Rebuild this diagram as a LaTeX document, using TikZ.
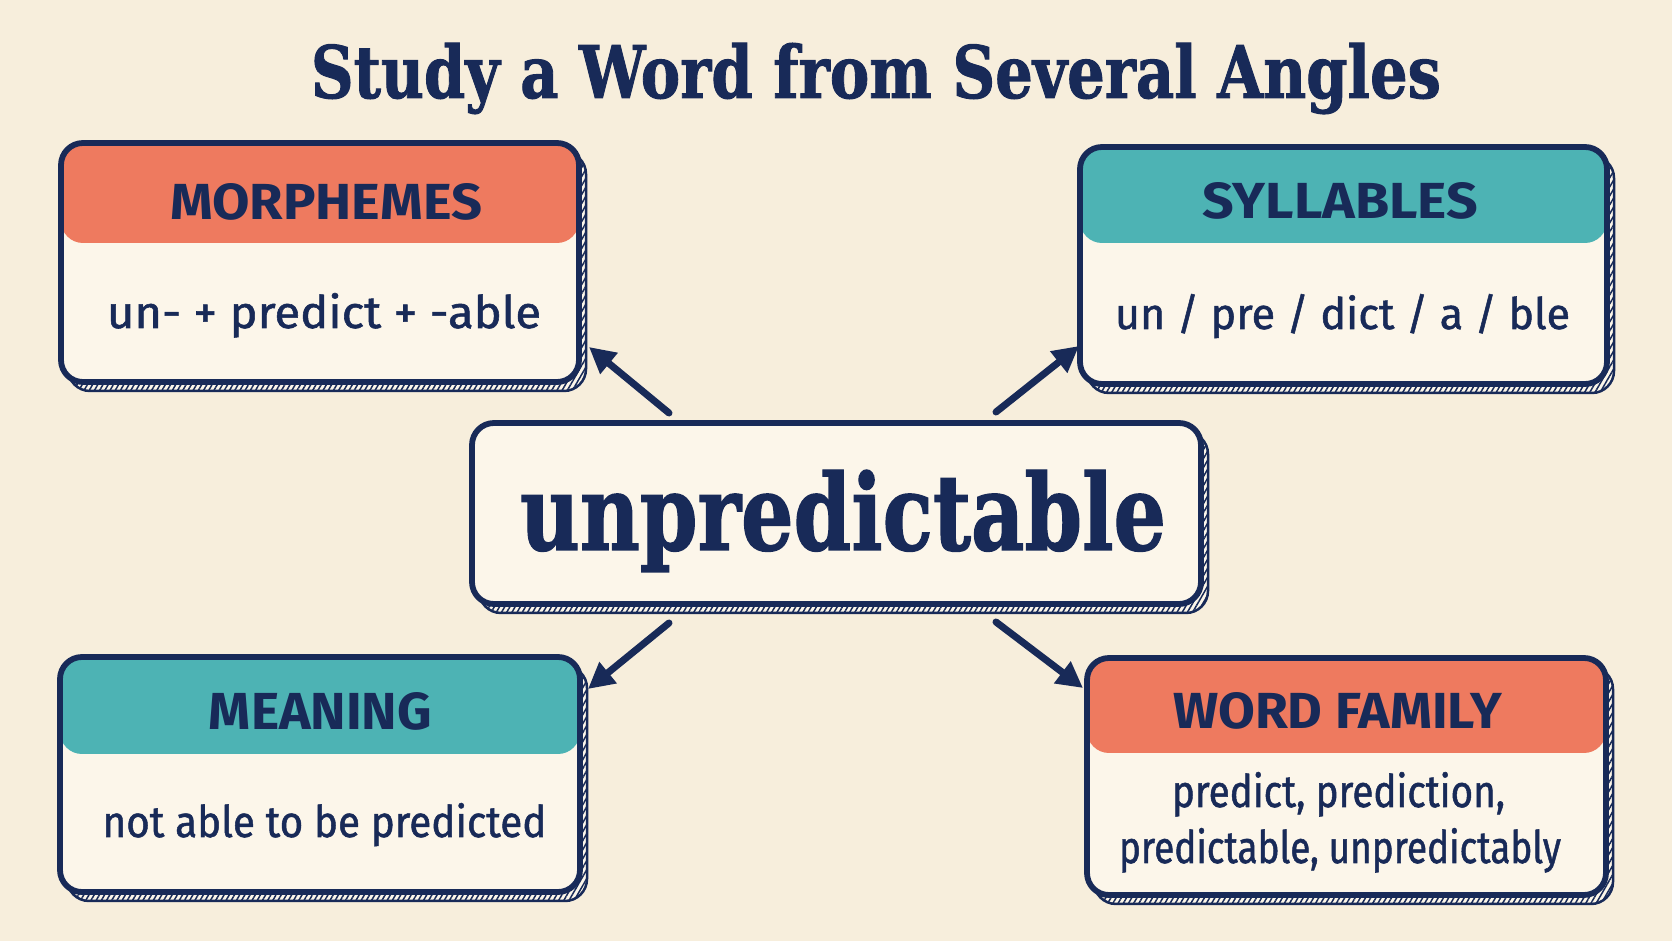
\documentclass[tikz,border=0pt]{standalone}
\usepackage{fontspec}
\usetikzlibrary{arrows.meta,patterns.meta}
\newfontfamily\titlefont{DejaVu Serif}[FakeBold=1.4]
\newfontfamily\labfont{Fira Sans}
\newfontfamily\bodyfont{Fira Sans}[FakeBold=1.2]
\definecolor{paper}{HTML}{F7EEDC}
\definecolor{cardfill}{HTML}{FCF6EA}
\definecolor{navy}{HTML}{182A58}
\definecolor{coral}{HTML}{EE7A5F}
\definecolor{tealc}{HTML}{4DB3B4}
\newcommand\fitt[3]{\resizebox{#1}{#2}{#3}}
\pgfdeclarelayer{paperlayer}
\pgfdeclarelayer{shadelayer}
\pgfsetlayers{paperlayer,shadelayer,main}
\begin{document}
\begin{tikzpicture}[x=0.1mm,y=-0.1mm,
  card/.style={draw=navy, line width=0.58mm, fill=cardfill, rounded corners=2.2mm, inner sep=0pt, outer sep=0pt},
  hdr/.style 2 args={path picture={\fill[#1] (path picture bounding box.north west) rectangle ([yshift=-#2]path picture bounding box.north east);}},
  cardshade/.style={draw=navy, line width=0.25mm, rounded corners=2.2mm, fill=cardfill,
    postaction={pattern={Lines[angle=60,distance=0.45mm,line width=0.15mm]}, pattern color=navy}},
  txt/.style={inner sep=0pt, anchor=base, text=navy},
  arr/.style={draw=navy, line width=0.7mm, line cap=round, -{Triangle[length=2.6mm,width=2.6mm]}}]

\begin{pgfonlayer}{paperlayer}
  \fill[paper] (0,0) rectangle (1672,941);
\end{pgfonlayer}
\useasboundingbox (0,0) rectangle (1672,941);

% title
\node[txt] (title) at (876,98) {\fitt{113mm}{5.5mm}{\titlefont\bfseries Study a Word from Several Angles}};

% cards
\node[card, minimum width=51.8mm, minimum height=23.9mm, hdr={coral}{10mm}] (morph) at (320,262.5) {};
\node[card, minimum width=52.7mm, minimum height=23.7mm, hdr={tealc}{9.6mm}] (syll) at (1343.5,265.5) {};
\node[card, minimum width=52mm, minimum height=23.5mm, hdr={tealc}{9.7mm}] (mean) at (320,774.5) {};
\node[card, minimum width=51.9mm, minimum height=23.7mm, hdr={coral}{9.5mm}] (fam) at (1346.5,776.5) {};
\node[card, minimum width=72.9mm, minimum height=18.1mm] (word) at (836.5,513.5) {};

\begin{pgfonlayer}{shadelayer}
  \foreach \n in {morph,syll,mean,fam,word}{
    \path[cardshade] ([shift={(7,9)}]\n.north west) rectangle ([shift={(7,9)}]\n.south east);
  }
\end{pgfonlayer}

% texts
\node[txt] (wordtxt) at (843,550) {\fitt{64.6mm}{8mm}{\titlefont\bfseries unpredictable}};

\node[txt] (morphh) at (326,220) {\fitt{31.2mm}{3.6mm}{\labfont\bfseries MORPHEMES}};
\node[txt] (syllh) at (1340,219) {\fitt{27.6mm}{3.6mm}{\labfont\bfseries SYLLABLES}};
\node[txt] (meanh) at (320.5,730) {\fitt{22.3mm}{3.7mm}{\labfont\bfseries MEANING}};
\node[txt] (famh) at (1337.5,729) {\fitt{32.9mm}{3.6mm}{\labfont\bfseries WORD FAMILY}};

\node[txt] (morphb) at (324,328) {\fitt{43.4mm}{3.5mm}{\bodyfont un- + predict + -able}};
\node[txt] (syllb) at (1342.5,329) {\fitt{45.5mm}{3.5mm}{\bodyfont un / pre / dict / a / ble}};
\node[txt] (meanb) at (324.5,837) {\fitt{44.4mm}{3.4mm}{\bodyfont not able to be predicted}};
\node[txt] (famb1) at (1338.5,807) {\fitt{33.3mm}{3.5mm}{\bodyfont predict, prediction,}};
\node[txt] (famb2) at (1340,863) {\fitt{44.2mm}{3.5mm}{\bodyfont predictable, unpredictably}};

% arrows
\coordinate (s1) at (669,413); \coordinate (e1) at (589,347);
\coordinate (s2) at (996,412); \coordinate (e2) at (1079,346);
\coordinate (s3) at (669,623); \coordinate (e3) at (588,689);
\coordinate (s4) at (996,622); \coordinate (e4) at (1083,688);
\draw[arr] (s1) -- (e1);
\draw[arr] (s2) -- (e2);
\draw[arr] (s3) -- (e3);
\draw[arr] (s4) -- (e4);
\end{tikzpicture}
\end{document}
